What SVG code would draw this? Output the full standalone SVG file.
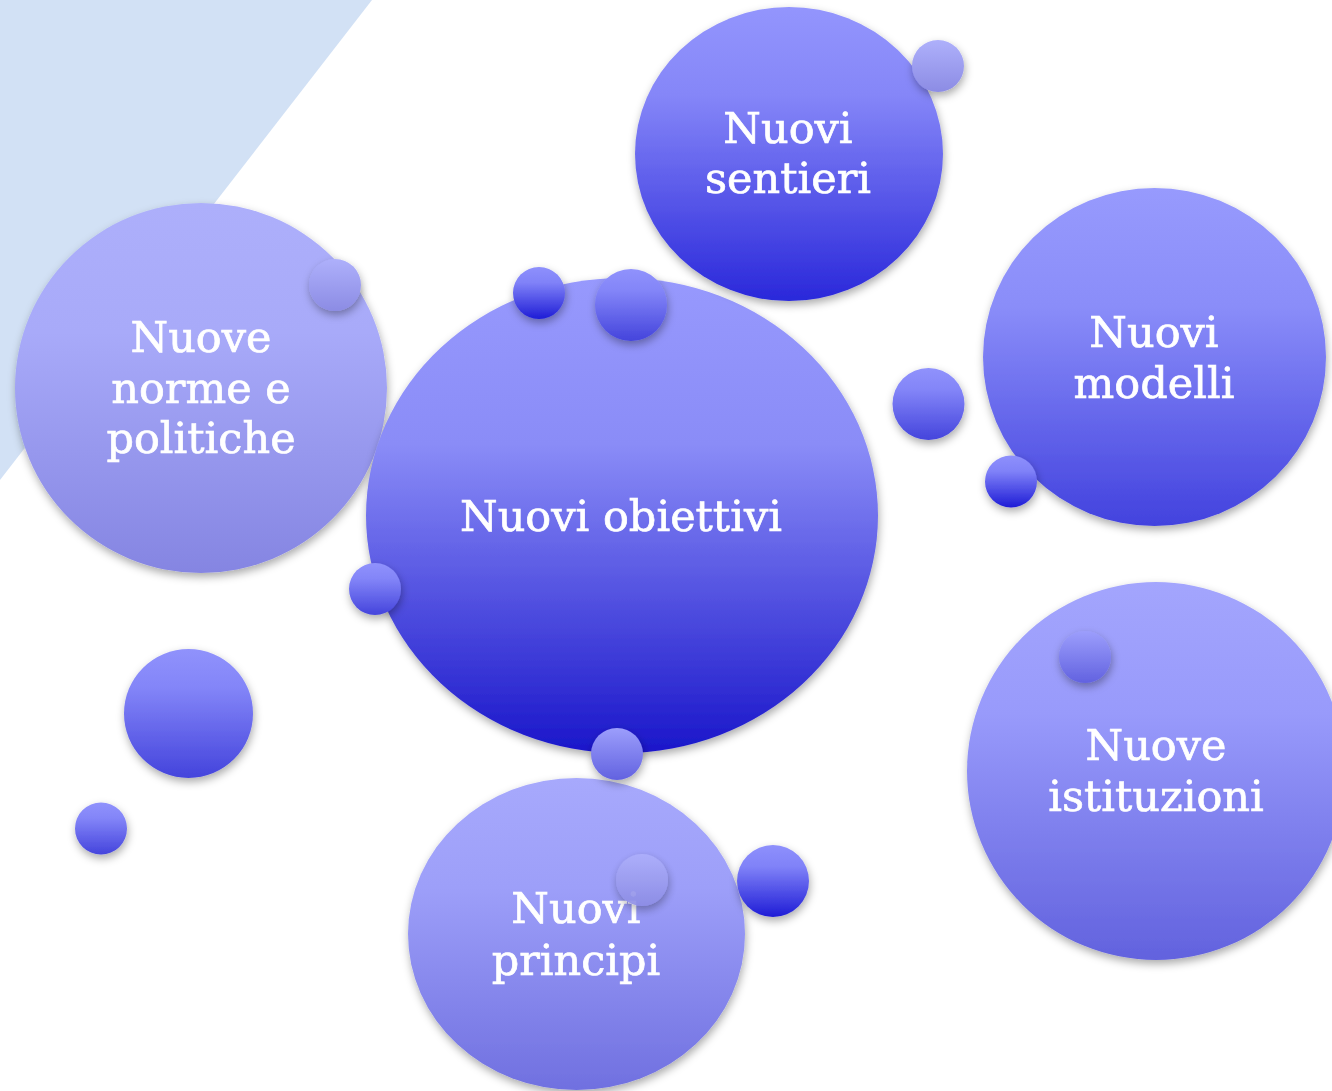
<svg xmlns="http://www.w3.org/2000/svg" width="1332" height="1091" viewBox="0 0 1332 1091">
<style>
  .lbl { font-family: "DejaVu Serif", "Liberation Serif", serif; font-size: 43px; fill: #ffffff; stroke: #ffffff; stroke-width: 0.7px; text-anchor: middle; }
  .bub { filter: url(#sh); }
</style>
<defs>
  <filter id="sh" x="-30%" y="-30%" width="160%" height="160%">
    <feDropShadow dx="1" dy="4" stdDeviation="4" flood-color="#000000" flood-opacity="0.33"/>
  </filter>
  <linearGradient id="gNorme" x1="0" y1="0" x2="0" y2="1"><stop offset="0" stop-color="#ADAFFB"/><stop offset="0.35" stop-color="#A8AAF9"/><stop offset="1" stop-color="#8585E2"/></linearGradient>
  <linearGradient id="gSent" x1="0" y1="0" x2="0" y2="1"><stop offset="0" stop-color="#9395FD"/><stop offset="0.3" stop-color="#8586F8"/><stop offset="1" stop-color="#2A28DA"/></linearGradient>
  <linearGradient id="gCent" x1="0" y1="0" x2="0" y2="1"><stop offset="0" stop-color="#9799FD"/><stop offset="0.35" stop-color="#8A8CF7"/><stop offset="1" stop-color="#1A16CA"/></linearGradient>
  <linearGradient id="gMod" x1="0" y1="0" x2="0" y2="1"><stop offset="0" stop-color="#979AFD"/><stop offset="0.35" stop-color="#8A8DF9"/><stop offset="1" stop-color="#4242DE"/></linearGradient>
  <linearGradient id="gIst" x1="0" y1="0" x2="0" y2="1"><stop offset="0" stop-color="#A3A5FD"/><stop offset="0.35" stop-color="#989AFB"/><stop offset="1" stop-color="#6262DE"/></linearGradient>
  <linearGradient id="gPrin" x1="0" y1="0" x2="0" y2="1"><stop offset="0" stop-color="#A7A9FC"/><stop offset="0.35" stop-color="#9D9FF9"/><stop offset="1" stop-color="#7070E0"/></linearGradient>
  <linearGradient id="gLight" x1="0" y1="0" x2="0" y2="1"><stop offset="0" stop-color="#AEB0FB"/><stop offset="1" stop-color="#8C8CE4"/></linearGradient>
  <linearGradient id="gDark" x1="0" y1="0" x2="0" y2="1"><stop offset="0" stop-color="#8E90FC"/><stop offset="0.3" stop-color="#8082F8"/><stop offset="1" stop-color="#1E1CD6"/></linearGradient>
  <linearGradient id="gMid" x1="0" y1="0" x2="0" y2="1"><stop offset="0" stop-color="#9092FC"/><stop offset="0.3" stop-color="#8385F8"/><stop offset="1" stop-color="#4444DC"/></linearGradient>
  <linearGradient id="gSoft" x1="0" y1="0" x2="0" y2="1"><stop offset="0" stop-color="#9C9EFC"/><stop offset="1" stop-color="#6262E0"/></linearGradient>
</defs>

<polygon points="0,0 372,0 0,480" fill="#D2E1F5"/>

<g id="connectors"></g>

<g id="node-norme" class="bub">
  <ellipse cx="201" cy="388" rx="186" ry="185" fill="url(#gNorme)"/>
  <text class="lbl" x="201" y="352">Nuove</text>
  <text class="lbl" x="201" y="403">norme e</text>
  <text class="lbl" x="201" y="453">politiche</text>
</g>

<g id="node-obiettivi" class="bub">
  <ellipse cx="622" cy="515.5" rx="256" ry="237.5" fill="url(#gCent)"/>
  <text class="lbl" x="621" y="531">Nuovi obiettivi</text>
</g>

<g id="node-sentieri" class="bub">
  <ellipse cx="789" cy="154" rx="154" ry="147" fill="url(#gSent)"/>
  <text class="lbl" x="788" y="143">Nuovi</text>
  <text class="lbl" x="788" y="193">sentieri</text>
</g>

<g id="node-modelli" class="bub">
  <ellipse cx="1154.5" cy="357" rx="171.5" ry="169" fill="url(#gMod)"/>
  <text class="lbl" x="1154" y="347">Nuovi</text>
  <text class="lbl" x="1154" y="398">modelli</text>
</g>

<g id="node-istituzioni" class="bub">
  <ellipse cx="1156" cy="771" rx="189" ry="189" fill="url(#gIst)"/>
  <text class="lbl" x="1156" y="760">Nuove</text>
  <text class="lbl" x="1156" y="811">istituzioni</text>
</g>

<g id="node-principi" class="bub">
  <ellipse cx="576.5" cy="934" rx="168.5" ry="156" fill="url(#gPrin)"/>
  <text class="lbl" x="576" y="923">Nuovi</text>
  <text class="lbl" x="576" y="975">principi</text>
</g>

<g id="bubbles">
  <circle class="bub" cx="335" cy="285" r="26" fill="url(#gLight)"/>
  <circle class="bub" cx="938" cy="66" r="26" fill="url(#gLight)"/>
  <circle class="bub" cx="539" cy="293" r="26" fill="url(#gDark)"/>
  <circle class="bub" cx="631" cy="305" r="36" fill="url(#gMid)"/>
  <circle class="bub" cx="375" cy="589" r="26" fill="url(#gMid)"/>
  <circle class="bub" cx="617" cy="754" r="26" fill="url(#gSoft)"/>
  <circle class="bub" cx="642" cy="880" r="26" fill="url(#gLight)" opacity="0.9"/>
  <circle class="bub" cx="773" cy="881" r="36" fill="url(#gDark)"/>
  <circle class="bub" cx="928.5" cy="404" r="36" fill="url(#gMid)"/>
  <circle class="bub" cx="1011" cy="481.5" r="26" fill="url(#gDark)"/>
  <circle class="bub" cx="1085" cy="657" r="26" fill="url(#gSoft)"/>
  <circle class="bub" cx="188.5" cy="713.5" r="64.5" fill="url(#gMid)"/>
  <circle class="bub" cx="101" cy="828.5" r="26" fill="url(#gMid)"/>
</g>
</svg>
